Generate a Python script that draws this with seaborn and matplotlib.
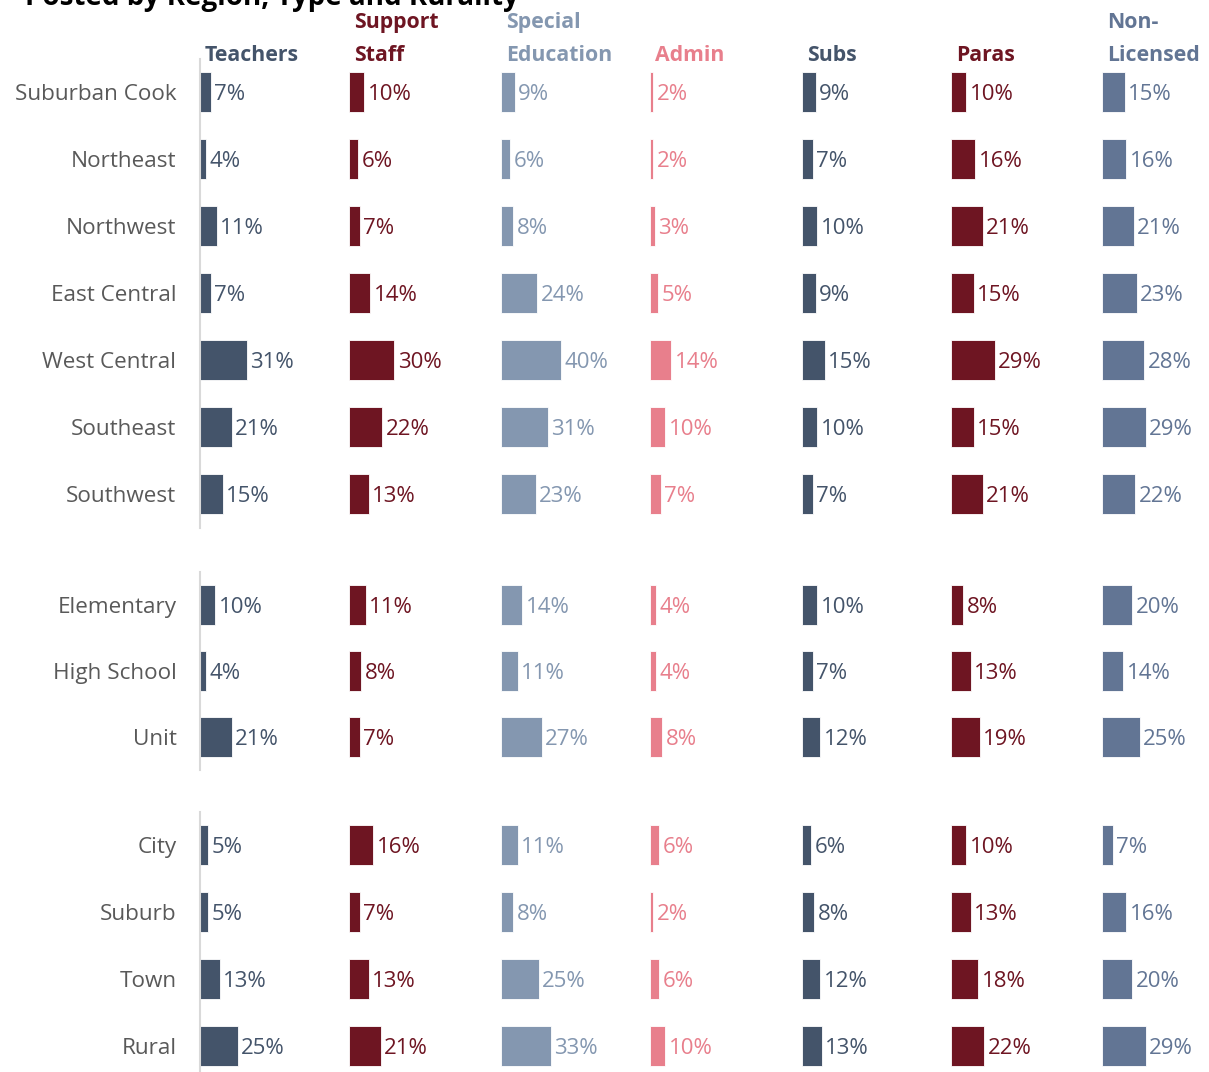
import matplotlib
matplotlib.use("Agg")
import matplotlib.pyplot as plt
import seaborn as sns

sns.set_theme(style="white")
plt.rcParams["font.family"] = ["Open Sans", "DejaVu Sans"]

# Row groups
regions = ["Suburban Cook", "Northeast", "Northwest", "East Central",
           "West Central", "Southeast", "Southwest"]
types = ["Elementary", "High School", "Unit"]
rurality = ["City", "Suburb", "Town", "Rural"]

# Column headers
roles = ["Teachers", "Support\nStaff", "Special\nEducation", "Admin",
         "Subs", "Paras", "Non-\nLicensed"]

# Percentages per role, one list per row group
region_vals = {
    "Teachers":          [7, 4, 11, 7, 31, 21, 15],
    "Support\nStaff":    [10, 6, 7, 14, 30, 22, 13],
    "Special\nEducation": [9, 6, 8, 24, 40, 31, 23],
    "Admin":             [2, 2, 3, 5, 14, 10, 7],
    "Subs":              [9, 7, 10, 9, 15, 10, 7],
    "Paras":             [10, 16, 21, 15, 29, 15, 21],
    "Non-\nLicensed":    [15, 16, 21, 23, 28, 29, 22],
}
type_vals = {
    "Teachers":          [10, 4, 21],
    "Support\nStaff":    [11, 8, 7],
    "Special\nEducation": [14, 11, 27],
    "Admin":             [4, 4, 8],
    "Subs":              [10, 7, 12],
    "Paras":             [8, 13, 19],
    "Non-\nLicensed":    [20, 14, 25],
}
rural_vals = {
    "Teachers":          [5, 5, 13, 25],
    "Support\nStaff":    [16, 7, 13, 21],
    "Special\nEducation": [11, 8, 25, 33],
    "Admin":             [6, 2, 6, 10],
    "Subs":              [6, 8, 12, 13],
    "Paras":             [10, 13, 18, 22],
    "Non-\nLicensed":    [7, 16, 20, 29],
}

colors = ["#44546A", "#6E1522", "#8497B0", "#E87F8C",
          "#44546A", "#6E1522", "#627594"]

W, H = 1209, 1072
fig = plt.figure(figsize=(W / 100, H / 100), dpi=100)

col_left = [200, 349, 501, 650, 802, 951, 1102]
col_width = 150  # pixels spanning 0-100 %

groups = [
    (regions, region_vals, 58.5, 527.5),
    (types, type_vals, 572, 770),
    (rurality, rural_vals, 811.5, 1079.5),
]

for cats, vals, top, bottom in groups:
    n = len(cats)
    for j, role in enumerate(roles):
        ax = fig.add_axes([col_left[j] / W, 1 - bottom / H,
                           col_width / W, (bottom - top) / H])
        v = vals[role]
        sns.barplot(x=v, y=cats, orient="h", color=colors[j],
                    saturation=1, width=0.6, ax=ax,
                    edgecolor="white", linewidth=0.6)
        ax.set_xlim(0, 100)
        ax.set_ylim(n - 0.5, -0.5)
        ax.set_xlabel("")
        ax.set_ylabel("")
        ax.set_xticks([])
        ax.patch.set_alpha(0)
        for s in ["top", "right", "bottom"]:
            ax.spines[s].set_visible(False)
        if j == 0:
            ax.spines["left"].set_color("#D9D9D9")
            ax.spines["left"].set_linewidth(1.5)
            ax.tick_params(axis="y", length=0, pad=17, labelsize=16.2,
                           labelcolor="#595959")
        else:
            ax.spines["left"].set_visible(False)
            ax.set_yticks([])
        for i, val in enumerate(v):
            ax.text(val + 2.5, i, f"{val}%", ha="left",
                    va="center_baseline", fontsize=16,
                    color=colors[j], clip_on=False)

# Column headers, each line placed from the bottom up
for j, role in enumerate(roles):
    lines = role.split("\n")
    for k, line in enumerate(reversed(lines)):
        y_px = 61 - 33 * k
        fig.text((col_left[j] + 5) / W, 1 - y_px / H, line,
                 ha="left", va="baseline", fontsize=15.3,
                 fontweight="bold", color=colors[j])

fig.text(25 / W, 1 - 5 / H, "Posted by Region, Type and Rurality",
         ha="left", va="baseline", fontsize=20, fontweight="bold",
         color="black")

fig.savefig("out.png", dpi=100)
